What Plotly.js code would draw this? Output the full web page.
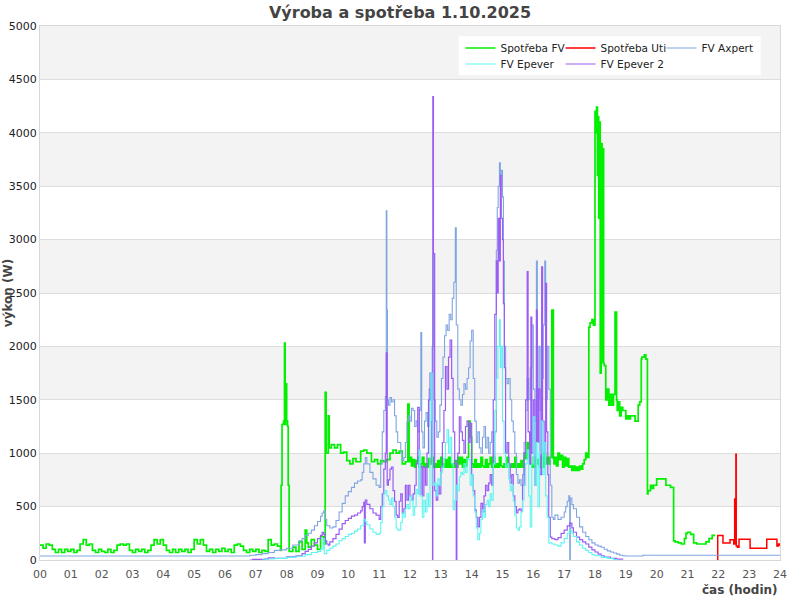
<!DOCTYPE html>
<html>
<head>
<meta charset="utf-8">
<script src="https://cdn.plot.ly/plotly-3.0.1.min.js"></script>
<style>html,body{margin:0;padding:0;background:#fff;}#chart{width:800px;height:600px;}</style>
</head>
<body>
<div id="chart"></div>
<script>
// ---- Tick labels ----
const hourTicks = [0,1,2,3,4,5,6,7,8,9,10,11,12,13,14,15,16,17,18,19,20,21,22,23,24];
const hourLabels = ['00','01','02','03','04','05','06','07','08','09','10','11','12','13','14','15','16','17','18','19','20','21','22','23','24'];
const bandStarts = [500,1500,2500,3500,4500];

// ---- Spotřeba FV (green) ----
const fvT = [0.0,0.1,0.2,0.3,0.4,0.5,0.6,0.7,0.8,0.9,1.0,1.1,1.2,1.3,1.4,1.5,1.6,1.7,1.8,1.9,2.0,2.1,2.2,2.3,2.4,2.5,2.6,2.7,2.8,2.9,3.0,3.1,3.2,3.3,3.4,3.5,3.6,3.7,3.8,3.9,4.0,4.1,4.2,4.3,4.4,4.5,4.6,4.7,4.8,4.9,5.0,5.1,5.2,5.3,5.4,5.5,5.6,5.7,5.8,5.9,6.0,6.1,6.2,6.3,6.4,6.5,6.6,6.7,6.8,6.9,7.0,7.1,7.2,7.3,7.4,7.5,7.6,7.7,7.8,7.82,7.85,7.9,7.93,7.95,7.97,8.0,8.03,8.05,8.08,8.2,8.3,8.4,8.5,8.6,8.65,8.7,8.8,8.9,9.0,9.1,9.2,9.25,9.28,9.35,9.38,9.45,9.55,9.65,9.75,9.85,9.95,10.05,10.15,10.25,10.4,10.5,10.6,10.75,10.85,10.95,11.05,11.15,11.25,11.35,11.45,11.55,11.65,11.75,11.85,11.93,11.97,12.0,12.05,12.1,12.15,12.2,12.25,12.3,12.35,12.4,12.45,12.5,12.55,12.6,12.65,12.7,12.75,12.8,12.85,12.9,12.95,13.0,13.05,13.1,13.15,13.2,13.25,13.3,13.35,13.4,13.45,13.5,13.55,13.6,13.65,13.7,13.75,13.8,13.85,13.9,13.95,14.0,14.05,14.1,14.15,14.2,14.25,14.3,14.35,14.4,14.45,14.5,14.55,14.6,14.65,14.7,14.75,14.8,14.85,14.9,14.95,15.0,15.05,15.1,15.15,15.2,15.25,15.3,15.35,15.4,15.45,15.5,15.55,15.6,15.65,15.7,15.75,15.8,15.85,15.9,15.95,16.0,16.05,16.1,16.15,16.2,16.25,16.3,16.35,16.4,16.45,16.5,16.55,16.6,16.65,16.67,16.7,16.75,16.8,16.85,16.9,16.95,17.0,17.05,17.1,17.15,17.2,17.25,17.3,17.35,17.4,17.45,17.5,17.55,17.6,17.65,17.7,17.75,17.8,17.84,17.9,17.95,18.0,18.02,18.05,18.08,18.1,18.12,18.15,18.17,18.2,18.23,18.25,18.28,18.3,18.35,18.4,18.45,18.5,18.55,18.6,18.65,18.7,18.72,18.75,18.8,18.85,18.9,19.0,19.05,19.1,19.15,19.3,19.4,19.45,19.5,19.52,19.6,19.65,19.7,19.72,19.8,19.85,19.9,20.0,20.1,20.3,20.45,20.55,20.6,20.7,20.8,20.9,20.95,21.0,21.1,21.2,21.3,21.4,21.5,21.6,21.7,21.8,21.9,21.97];
const fvV = [140,110,150,140,100,70,100,70,100,80,100,70,90,150,190,140,150,90,70,100,80,70,100,70,90,140,150,140,150,90,70,100,80,100,70,90,140,190,150,190,140,90,70,100,70,100,80,100,70,100,190,150,190,140,80,100,70,100,80,110,80,100,70,140,150,130,90,70,100,80,100,70,90,80,190,140,150,130,90,700,1270,1300,2030,1270,1650,1300,1250,700,80,120,80,170,100,280,160,120,190,140,100,220,150,1570,1000,1350,1050,1080,1050,1080,1000,1010,930,900,950,920,1020,1030,1000,920,940,900,930,920,940,1000,1030,1000,1020,900,920,1460,920,960,880,940,870,930,960,870,900,960,870,900,870,950,900,960,870,900,870,930,870,960,900,870,940,870,960,870,900,870,930,870,960,900,960,870,940,880,960,1300,1150,900,870,940,870,900,870,960,880,870,940,870,900,960,870,960,870,900,870,960,880,870,900,870,960,880,870,900,870,960,870,900,870,930,870,1000,950,1100,960,900,870,960,870,940,900,870,960,870,1000,900,960,900,960,2340,950,900,960,880,1000,940,980,870,960,880,950,870,880,840,880,840,870,840,880,850,900,940,1000,960,2180,2220,2250,2200,4200,4000,4240,3600,4150,3200,4100,1750,3900,1850,3850,1840,1820,1500,1600,1450,1550,1450,1550,2320,1500,1400,1480,1350,1430,1400,1320,1350,1320,1350,1300,1450,1480,1880,1900,1920,1880,620,650,700,670,700,760,760,700,680,180,170,160,150,200,250,260,240,160,150,150,150,170,200,230,230];

// ---- Spotřeba Uti (red) ----
const utiT = [21.97,21.98,22.15,22.38,22.5,22.53,22.55,22.57,22.58,22.62,22.67,23.03,23.57,23.9,23.95,24.0];
const utiV = [0,230,160,190,150,570,200,990,130,120,195,110,195,130,150,130];

// ---- FV Axpert (blue) ----
const axT = [0.0,6.7,6.8,7.0,7.2,7.4,7.6,7.8,8.0,8.2,8.4,8.5,8.6,8.7,8.8,8.9,9.0,9.1,9.15,9.2,9.25,9.3,9.4,9.5,9.6,9.7,9.8,9.9,10.0,10.1,10.2,10.3,10.4,10.45,10.5,10.55,10.6,10.7,10.8,10.9,11.0,11.05,11.1,11.15,11.2,11.23,11.25,11.27,11.3,11.35,11.4,11.45,11.5,11.55,11.6,11.7,11.75,11.8,11.85,11.9,11.95,12.0,12.05,12.1,12.15,12.2,12.25,12.3,12.35,12.38,12.42,12.47,12.52,12.57,12.62,12.67,12.72,12.75,12.78,12.82,12.87,12.92,12.97,13.02,13.07,13.12,13.17,13.22,13.27,13.32,13.37,13.42,13.47,13.5,13.55,13.6,13.65,13.7,13.75,13.8,13.85,13.9,13.95,14.0,14.05,14.1,14.15,14.2,14.25,14.3,14.35,14.4,14.45,14.5,14.55,14.6,14.65,14.7,14.75,14.8,14.83,14.86,14.9,14.93,14.96,15.0,15.03,15.06,15.1,15.15,15.2,15.25,15.3,15.35,15.4,15.45,15.5,15.55,15.6,15.65,15.7,15.75,15.8,15.85,15.9,15.95,16.0,16.05,16.1,16.13,16.18,16.22,16.27,16.32,16.37,16.4,16.45,16.5,16.55,16.6,16.65,16.7,16.8,16.9,17.0,17.05,17.1,17.15,17.18,17.2,17.25,17.3,17.4,17.5,17.6,17.7,17.8,17.9,18.0,18.1,18.2,18.3,18.4,18.5,18.6,18.7,18.8,18.9,19.0,19.5,19.55,24.0];
const axV = [37,37,45,50,60,70,90,95,110,140,180,200,230,250,280,320,360,410,440,460,380,320,300,310,370,450,530,600,640,680,720,740,750,820,900,960,900,820,760,700,680,900,1200,1400,1530,3270,2340,1500,1450,1520,1480,1500,1350,1200,1100,1000,930,960,1100,1300,1350,1300,1420,1400,1250,1300,1200,1400,2130,1200,1050,1300,1380,1250,1600,1500,2000,2870,1500,1300,1150,1200,1450,1700,1900,2100,2200,2150,2300,2250,2450,2600,3110,2200,1600,1500,1450,1550,1650,1600,1700,1800,2050,2150,1700,1300,1100,1200,1050,1000,1150,1250,1050,1150,1000,1100,1200,900,1200,2900,3300,3500,3720,3600,3650,3400,2800,2000,1700,1650,1700,1500,1300,1200,1000,800,720,750,700,800,1100,1400,1700,1500,1800,2200,1600,1300,2800,1500,2000,1400,1700,2200,2800,1500,2000,1600,700,400,380,420,380,400,450,500,550,600,0,580,520,480,400,310,260,220,190,160,140,130,120,100,85,75,65,55,45,40,37,37,45,45];

// ---- FV Epever (cyan) ----
const epT = [7.2,7.3,7.6,8.0,8.3,8.6,8.8,9.0,9.1,9.18,9.22,9.3,9.4,9.5,9.6,9.7,9.8,9.9,10.0,10.1,10.2,10.3,10.4,10.5,10.55,10.6,10.7,10.8,10.9,11.0,11.05,11.1,11.15,11.2,11.25,11.3,11.35,11.4,11.45,11.5,11.55,11.6,11.7,11.75,11.8,11.85,11.9,11.95,12.0,12.05,12.1,12.15,12.2,12.25,12.3,12.33,12.4,12.45,12.5,12.55,12.6,12.65,12.68,12.72,12.8,12.85,12.9,12.95,13.0,13.05,13.1,13.15,13.2,13.25,13.3,13.35,13.4,13.45,13.5,13.55,13.6,13.65,13.7,13.75,13.8,13.85,13.9,13.95,14.0,14.05,14.1,14.15,14.2,14.25,14.3,14.35,14.4,14.45,14.5,14.55,14.6,14.65,14.7,14.75,14.8,14.85,14.9,14.93,14.96,15.0,15.05,15.1,15.15,15.2,15.25,15.3,15.35,15.4,15.45,15.5,15.55,15.6,15.65,15.7,15.75,15.8,15.85,15.9,15.95,16.0,16.05,16.1,16.15,16.2,16.25,16.3,16.35,16.4,16.45,16.5,16.6,16.7,16.8,16.9,17.0,17.1,17.18,17.25,17.3,17.4,17.5,17.6,17.7,17.8,17.9,18.0,18.2,18.4,18.6,18.7];
const epV = [0,10,15,25,35,50,70,80,100,200,60,90,110,130,150,180,200,220,240,250,270,290,320,380,360,330,290,260,240,250,350,500,620,650,600,560,520,580,500,400,300,280,350,440,400,480,520,480,600,560,420,500,660,620,1030,600,400,560,450,620,500,1300,1750,700,720,600,760,700,820,870,950,1100,1220,1000,1150,900,470,560,700,650,780,820,800,900,820,950,940,700,800,600,450,300,190,250,380,470,400,520,560,500,620,560,900,1400,1700,2000,2250,1800,2000,1300,1000,870,900,760,650,700,550,420,300,280,310,450,560,700,900,1030,600,310,900,1340,700,1100,500,1000,1300,800,1100,600,400,160,150,140,130,160,200,250,280,250,220,170,140,110,90,70,50,40,25,15,5,0];

// ---- FV Epever 2 (purple) ----
const ep2T = [6.8,6.9,7.3,7.4,7.6,8.0,8.3,8.5,8.6,8.7,8.8,8.9,9.0,9.1,9.15,9.2,9.25,9.3,9.35,9.4,9.5,9.6,9.7,9.8,9.9,10.0,10.1,10.2,10.3,10.4,10.45,10.5,10.52,10.55,10.6,10.7,10.8,10.9,11.0,11.05,11.1,11.15,11.2,11.23,11.26,11.3,11.35,11.4,11.45,11.5,11.55,11.6,11.65,11.7,11.75,11.8,11.85,11.9,11.95,12.0,12.05,12.1,12.15,12.2,12.25,12.3,12.35,12.4,12.45,12.5,12.55,12.6,12.65,12.7,12.73,12.74,12.76,12.8,12.85,12.9,12.95,13.0,13.05,13.1,13.15,13.2,13.25,13.3,13.35,13.4,13.45,13.5,13.52,13.55,13.6,13.65,13.7,13.75,13.8,13.85,13.9,13.95,14.0,14.05,14.1,14.15,14.2,14.25,14.3,14.35,14.4,14.45,14.5,14.55,14.6,14.65,14.7,14.75,14.8,14.83,14.86,14.9,14.93,14.96,15.0,15.03,15.06,15.1,15.15,15.2,15.25,15.3,15.35,15.4,15.45,15.5,15.55,15.6,15.65,15.7,15.75,15.8,15.83,15.88,15.92,15.95,16.0,16.05,16.1,16.13,16.17,16.22,16.27,16.3,16.35,16.4,16.43,16.47,16.5,16.55,16.6,16.7,16.8,16.9,17.0,17.1,17.18,17.25,17.3,17.4,17.5,17.6,17.7,17.8,17.9,18.0,18.1,18.2,18.3,18.5,18.7,18.9];
const ep2V = [0,5,10,20,15,30,40,60,80,100,130,160,200,230,260,240,180,150,140,170,200,240,290,340,370,390,410,420,440,460,500,540,160,560,520,480,440,420,380,500,620,850,1000,1940,700,750,850,870,650,550,420,400,550,620,440,480,700,560,700,600,560,620,700,900,1430,620,880,600,870,700,1000,1500,1750,900,0,4340,2870,650,560,700,620,870,1100,1400,1810,1600,1900,2060,1700,1200,900,0,870,1000,1340,1200,1120,1000,1250,1300,1100,1280,800,650,470,400,310,400,530,450,600,700,650,720,800,700,1500,2300,2800,2500,3200,2800,3600,3200,3000,2400,1800,1000,1100,900,720,800,600,500,440,470,480,460,700,1000,1500,2700,1200,900,2275,1000,1500,700,2340,1100,1600,800,2745,1300,1000,2590,1200,800,400,215,200,190,210,250,280,320,346,300,260,215,190,170,150,120,95,75,55,40,28,15,8,5];

const font = 'DejaVu Sans, Verdana, sans-serif';

const traces = [
  {x: fvT, y: fvV, name: 'Spotřeba FV', type: 'scatter', mode: 'lines', line: {color: '#00f000', width: 1.7, shape: 'hv'}, legend: 'legend'},
  {x: utiT, y: utiV, name: 'Spotřeba Uti', type: 'scatter', mode: 'lines', line: {color: '#ff0000', width: 1.5, shape: 'hv'}, legend: 'legend2'},
  {x: axT, y: axV, name: 'FV Axpert', type: 'scatter', mode: 'lines', line: {color: '#80a6e2', width: 1.1, shape: 'hv'}, legend: 'legend3'},
  {x: ep2T, y: ep2V, name: 'FV Epever 2', type: 'scatter', mode: 'lines', line: {color: '#9a5cf5', width: 1.2, shape: 'hv'}, legend: 'legend5'},
  {x: epT, y: epV, name: 'FV Epever', type: 'scatter', mode: 'lines', line: {color: '#5ef5f0', width: 1.1, shape: 'hv'}, legend: 'legend4'}
];

const shapes = bandStarts.map(b => ({
  type: 'rect', xref: 'paper', yref: 'y', x0: 0, x1: 1, y0: b, y1: b + 500,
  fillcolor: '#f3f3f3', line: {width: 0}, layer: 'below'
}));
// white legend box
shapes.push({type: 'rect', xref: 'paper', yref: 'paper', x0: 0.566, x1: 0.974, y0: 0.908, y1: 0.981,
  fillcolor: '#ffffff', line: {width: 0}, layer: 'below'});

const legendCommon = {
  orientation: 'h', xanchor: 'left', yanchor: 'top', bgcolor: 'rgba(0,0,0,0)', borderwidth: 0,
  font: {family: font, size: 10.5, color: '#222'}, itemwidth: 30
};
const colX = [0.5683, 0.7034, 0.8399];
const rowY = [0.986, 0.956];

const layout = {
  width: 800, height: 600,
  margin: {l: 40, r: 20, t: 26, b: 40},
  paper_bgcolor: '#ffffff', plot_bgcolor: '#ffffff',
  font: {family: font, size: 11, color: '#222'},
  title: {text: 'Výroba a spotřeba 1.10.2025', font: {family: font, size: 16, color: '#444', weight: 'bold'}, x: 0.5, xanchor: 'center', y: 0.98, yanchor: 'middle', yref: 'container'},
  xaxis: {range: [0, 24], tickvals: hourTicks, ticktext: hourLabels, showgrid: false, zeroline: false,
          showline: true, mirror: true, linecolor: '#d8d8d8', linewidth: 1, ticks: '', ticklabelstandoff: 4,
          tickfont: {family: font, size: 11, color: '#555'}, fixedrange: true},
  yaxis: {range: [0, 5000], dtick: 500, tick0: 0, showgrid: true, gridcolor: '#dddddd', gridwidth: 1, zeroline: false,
          showline: true, mirror: true, linecolor: '#d8d8d8', linewidth: 1, ticks: '',
          tickfont: {family: font, size: 11, color: '#222'}, fixedrange: true},
  shapes: shapes,
  showlegend: true,
  legend: Object.assign({}, legendCommon, {x: colX[0], y: rowY[0]}),
  legend2: Object.assign({}, legendCommon, {x: colX[1], y: rowY[0]}),
  legend3: Object.assign({}, legendCommon, {x: colX[2], y: rowY[0]}),
  legend4: Object.assign({}, legendCommon, {x: colX[0], y: rowY[1]}),
  legend5: Object.assign({}, legendCommon, {x: colX[1], y: rowY[1]}),
  annotations: [
    {text: 'výkon (W)', xref: 'paper', yref: 'paper', x: -0.043, y: 0.5, xanchor: 'center', yanchor: 'middle',
     textangle: -90, showarrow: false, font: {family: font, size: 12, color: '#444', weight: 'bold'}},
    {text: 'čas (hodin)', xref: 'paper', yref: 'paper', x: 1, y: -0.057, xanchor: 'right', yanchor: 'middle',
     showarrow: false, font: {family: font, size: 12, color: '#444', weight: 'bold'}}
  ]
};

Plotly.newPlot('chart', traces, layout, {displayModeBar: false, staticPlot: true});
</script>
</body>
</html>
